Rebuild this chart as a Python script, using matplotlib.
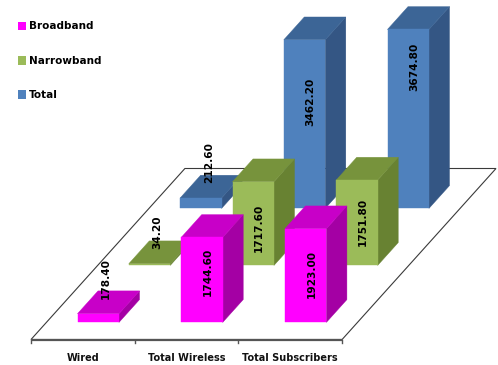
import matplotlib
matplotlib.use("Agg")
import matplotlib.pyplot as plt
from matplotlib.patches import Polygon, Patch

categories = ["Wired", "Total Wireless", "Total Subscribers"]
series_names = ["Broadband", "Narrowband", "Total"]
broadband = [178.40, 1744.60, 1923.00]
narrowband = [34.20, 1717.60, 1751.80]
total = [212.60, 3462.20, 3674.80]
series_values = [broadband, narrowband, total]

# colours: (front, top, side)
colors = [
    ("#FF00FF", "#C800C8", "#A400A4"),
    ("#9BBB59", "#77933C", "#688232"),
    ("#4F81BD", "#3C6596", "#345684"),
]

# label vertical position (fraction of bar height) for tall bars
label_frac = [[None, 0.60, 0.52], [None, 0.45, 0.51], [None, 0.63, 0.79]]

# projection geometry: 1 x-unit = one category, y in value units
PX_PER_CAT = 103.7
PX_PER_VAL = 0.0487
X0_PX, Y0_PX = 31.0, 339.5
DX = 51.3 / PX_PER_CAT          # depth shift per row in x units
DY = 57.0 / PX_PER_VAL          # depth shift per row in value units
BAR_W = 0.4
BAR_D = 0.4
W, H = 498, 365

fig = plt.figure(figsize=(W / 100, H / 100), dpi=100)
ax = fig.add_axes([0, 0, 1, 1])
ax.set_xlim(-X0_PX / PX_PER_CAT, (W - X0_PX) / PX_PER_CAT)
ax.set_ylim((Y0_PX - H) / PX_PER_VAL, Y0_PX / PX_PER_VAL)
ax.axis("off")

n = len(categories)
# floor
floor = Polygon([(0, 0), (n, 0), (n + 3 * DX, 3 * DY), (3 * DX, 3 * DY)],
                closed=True, facecolor="white", edgecolor="#3a3a3a", lw=0.8, zorder=1)
ax.add_patch(floor)
ax.plot([0, n], [0, 0], color="#555555", lw=1.6, zorder=2, solid_capstyle="butt")
tick_len = 3.5 / PX_PER_VAL
for i in range(n + 1):
    ax.plot([i, i], [0, -tick_len], color="#555555", lw=1.0, zorder=2)

for i, c in enumerate(categories):
    ax.text(i + 0.5, -18.5 / PX_PER_VAL, c, ha="center", va="center",
            fontsize=7, fontweight="bold", family="DejaVu Sans", color="#111111")

# bars, back row first
for r in reversed(range(len(series_values))):
    vals = series_values[r]
    fc, tc, sc = colors[r]
    z = 10 + (3 - r) * 3
    for i, v in enumerate(vals):
        x = i + (1 - BAR_W) / 2 + (r + (1 - BAR_D) / 2) * DX
        y0 = (r + (1 - BAR_D) / 2) * DY
        ddx, ddy = BAR_D * DX, BAR_D * DY
        front = Polygon([(x, y0), (x + BAR_W, y0), (x + BAR_W, y0 + v), (x, y0 + v)],
                        closed=True, facecolor=fc, edgecolor=fc, lw=0.3, zorder=z)
        top = Polygon([(x, y0 + v), (x + BAR_W, y0 + v), (x + BAR_W + ddx, y0 + v + ddy),
                       (x + ddx, y0 + v + ddy)],
                      closed=True, facecolor=tc, edgecolor=tc, lw=0.3, zorder=z)
        side = Polygon([(x + BAR_W, y0), (x + BAR_W + ddx, y0 + ddy),
                        (x + BAR_W + ddx, y0 + ddy + v), (x + BAR_W, y0 + v)],
                       closed=True, facecolor=sc, edgecolor=sc, lw=0.3, zorder=z)
        for p in (side, top, front):
            ax.add_patch(p)
        frac = label_frac[r][i]
        if frac is None:
            ax.text(x + BAR_W / 2 + 8 / PX_PER_CAT, y0 + v + 15 / PX_PER_VAL, f"{v:.2f}",
                    rotation=90, ha="center", va="bottom", fontsize=7.6, fontweight="bold",
                    family="DejaVu Sans", color="black", zorder=z + 1)
        else:
            ax.text(x + BAR_W / 2 + 6 / PX_PER_CAT, y0 + v * frac, f"{v:.2f}",
                    rotation=90, ha="center", va="center", fontsize=7.6, fontweight="bold",
                    family="DejaVu Sans", color="black", zorder=z + 2)

handles = [Patch(facecolor=colors[k][0], edgecolor="none") for k in range(3)]
leg = fig.legend(handles, series_names, loc="upper left", bbox_to_anchor=(0.018, 0.967),
                 frameon=False, handlelength=0.7, handleheight=0.9, handletextpad=0.3,
                 labelspacing=2.35, prop={"family": "DejaVu Sans", "weight": "bold", "size": 7.5})

fig.savefig("out.png", dpi=100)
